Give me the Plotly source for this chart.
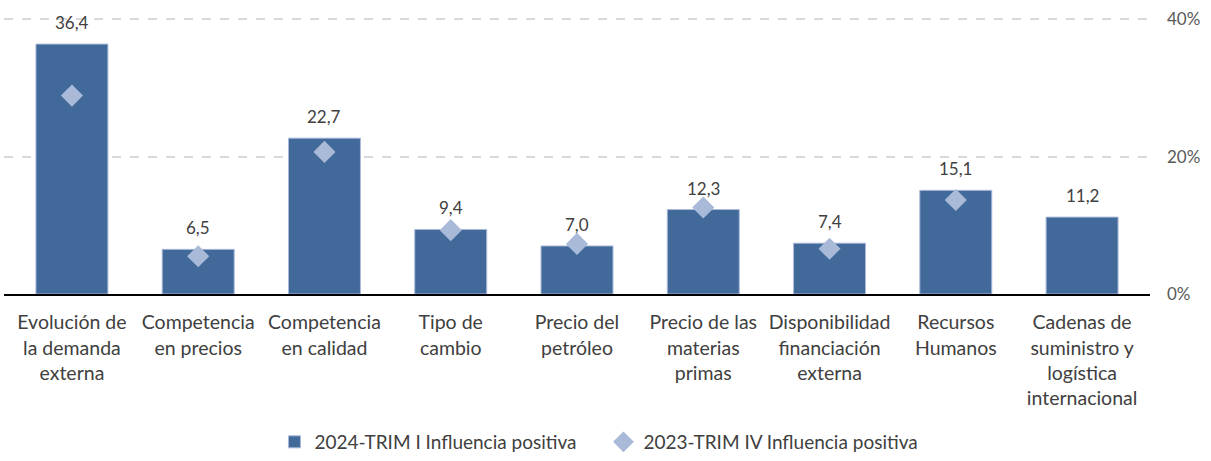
import plotly.graph_objects as go

categories = [
    "Evolución de<br>la demanda<br>externa",
    "Competencia<br>en precios",
    "Competencia<br>en calidad",
    "Tipo de<br>cambio",
    "Precio del<br>petróleo",
    "Precio de las<br>materias<br>primas",
    "Disponibilidad<br>financiación<br>externa",
    "Recursos<br>Humanos",
    "Cadenas de<br>suministro y<br>logística<br>internacional",
]
values_2024 = [36.4, 6.5, 22.7, 9.4, 7.0, 12.3, 7.4, 15.1, 11.2]
values_2023 = [28.9, 5.5, 20.7, 9.3, 7.3, 12.6, 6.6, 13.7, None]
tick_vals = [0, 20, 40]
tick_text = ["0%", "20%", "40%"]

font_family = "Lato, 'Open Sans', sans-serif"
text_color = "#404040"

fig = go.Figure()
fig.add_trace(go.Bar(
    x=categories, y=values_2024,
    name="2024-TRIM I Influencia positiva",
    marker=dict(color="#416A9B", line=dict(color="#A9B9D8", width=1)),
))
fig.add_trace(go.Scatter(
    x=categories, y=values_2023,
    name="2023-TRIM IV Influencia positiva",
    mode="markers",
    marker=dict(symbol="diamond", size=17, color="#A9B9D8"),
))

for c, v in zip(categories, values_2024):
    fig.add_annotation(
        x=c, y=v, text=f"{v:.1f}".replace(".", ","),
        showarrow=False, yanchor="bottom", yshift=9,
        font=dict(size=17, color=text_color, family=font_family),
    )

fig.update_layout(
    width=1211, height=461,
    margin=dict(l=4, r=61, t=18, b=167),
    plot_bgcolor="white", paper_bgcolor="white",
    separators=",.",
    bargap=0.43,
    font=dict(family=font_family, size=16, color=text_color),
    showlegend=True,
    legend=dict(orientation="h", x=0.236, xanchor="left",
                yref="container", y=0.0, yanchor="bottom",
                font=dict(size=19, color=text_color), entrywidth=284, entrywidthmode="pixels",
                traceorder="normal"),
    xaxis=dict(
        showline=True, linecolor="black", linewidth=2,
        tickfont=dict(size=19.5, color=text_color),
        ticks="", showgrid=False, automargin=False,
        ticklabelstandoff=10,
    ),
    yaxis=dict(
        side="right", range=[0, 40.2], tickvals=tick_vals, ticktext=tick_text,
        showgrid=True, gridcolor="#D9D9D9", griddash="dash", gridwidth=1.5,
        zeroline=False, showline=False, automargin=False,
        tickfont=dict(size=17, color="#595959"),
        ticklabelstandoff=16,
    ),
)

fig.write_html("out.html", config={"displayModeBar": False},
               post_script="document.body.style.margin='0';")
